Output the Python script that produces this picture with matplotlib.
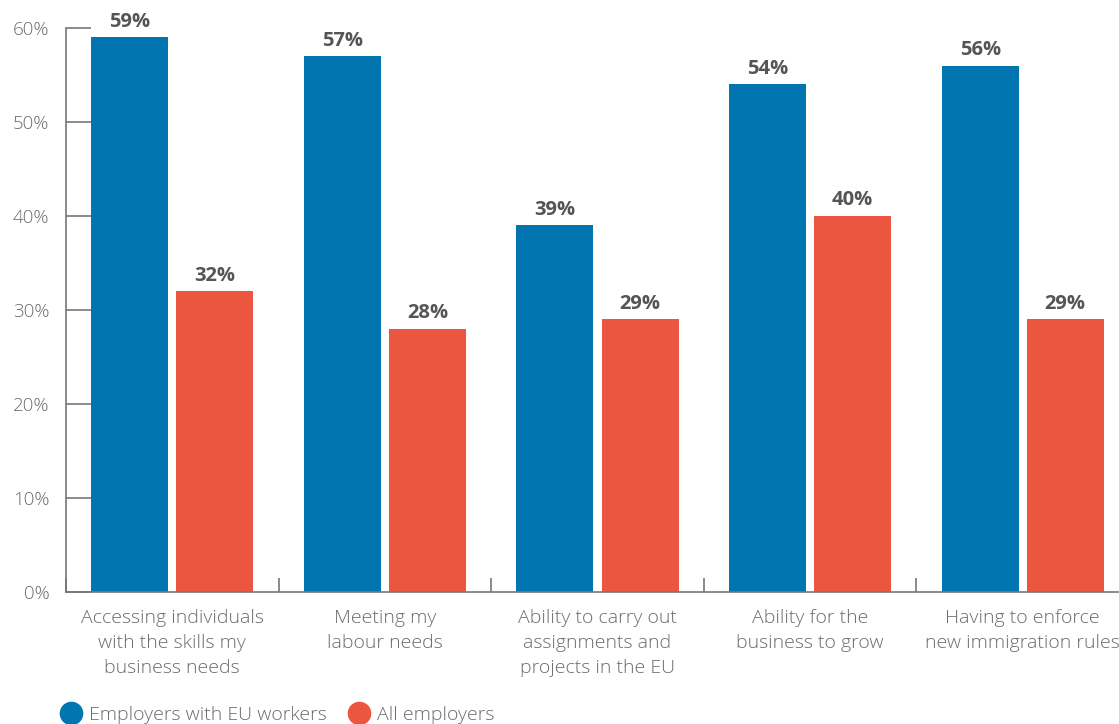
import matplotlib
matplotlib.use("Agg")
import matplotlib.pyplot as plt
from matplotlib.lines import Line2D
import numpy as np

categories = [
    "Accessing individuals\nwith the skills my\nbusiness needs",
    "Meeting my\nlabour needs",
    "Ability to carry out\nassignments and\nprojects in the EU",
    "Ability for the\nbusiness to grow",
    "Having to enforce\nnew immigration rules",
]
eu_workers = [59, 57, 39, 54, 56]
all_employers = [32, 28, 29, 40, 29]
series_names = ["Employers with EU workers", "All employers"]
y_ticks = [0, 10, 20, 30, 40, 50, 60]

BLUE = "#0075B0"
RED = "#EB5641"
AXIS_GREY = "#777777"
TEXT_GREY = "#6b6b6b"
LABEL_GREY = "#555555"

plt.rcParams["font.family"] = ["Open Sans", "DejaVu Sans"]

W, H = 1119, 724
fig = plt.figure(figsize=(W / 100, H / 100), dpi=100)
ax = fig.add_axes([66 / W, 1 - 592 / H, 1 - 66 / W, (592 - 28) / H])

x = np.arange(len(categories))
width = 0.362
offset = 0.2
b1 = ax.bar(x - offset, eu_workers, width, color=BLUE, zorder=2)
b2 = ax.bar(x + offset, all_employers, width, color=RED, zorder=2)

for bars in (b1, b2):
    ax.bar_label(bars, labels=[f"{v:.0f}%" for v in bars.datavalues],
                 padding=4, fontsize=14.5, fontweight="bold", color=LABEL_GREY)

ax.set_yticks(y_ticks)
ax.set_yticklabels([f"{t}%" for t in y_ticks])

# category names sit under the groups; tick marks sit between the groups
ax.set_xticks(np.arange(len(categories) + 1) - 0.5)
ax.set_xticklabels([])
ax.set_xticks(x, minor=True)
ax.set_xticklabels(categories, minor=True, fontsize=14, color=TEXT_GREY,
                   linespacing=1.5, fontweight="light")
ax.tick_params(axis="x", which="minor", length=0, pad=12.5)
ax.tick_params(axis="x", which="major", direction="in", length=10,
               width=1.2, color=AXIS_GREY)
ax.tick_params(axis="y", direction="in", length=18, width=1.2,
               color=AXIS_GREY, labelsize=13.5, labelcolor=TEXT_GREY, pad=12)
for lbl in ax.get_yticklabels():
    lbl.set_fontweight("light")

# limits last, so the between-group ticks do not widen the view
ax.set_ylim(0, 60)
ax.set_xlim(-0.5, -0.5 + (W - 66) / 212.6)

for side in ("top", "right"):
    ax.spines[side].set_visible(False)
for side in ("left", "bottom"):
    ax.spines[side].set_color(AXIS_GREY)
    ax.spines[side].set_linewidth(1.2)

handles = [Line2D([], [], marker="o", linestyle="none", markersize=16,
                  markerfacecolor=c, markeredgecolor=c) for c in (BLUE, RED)]
fig.legend(handles, series_names, loc="center left", ncol=2,
           bbox_to_anchor=(0.053, 9.5 / H), frameon=False,
           prop={"size": 14, "weight": "light"},
           labelcolor=TEXT_GREY, handletextpad=0.3, columnspacing=1.0,
           handlelength=1.25, borderpad=0, borderaxespad=0)

fig.savefig("out.png", dpi=100)
